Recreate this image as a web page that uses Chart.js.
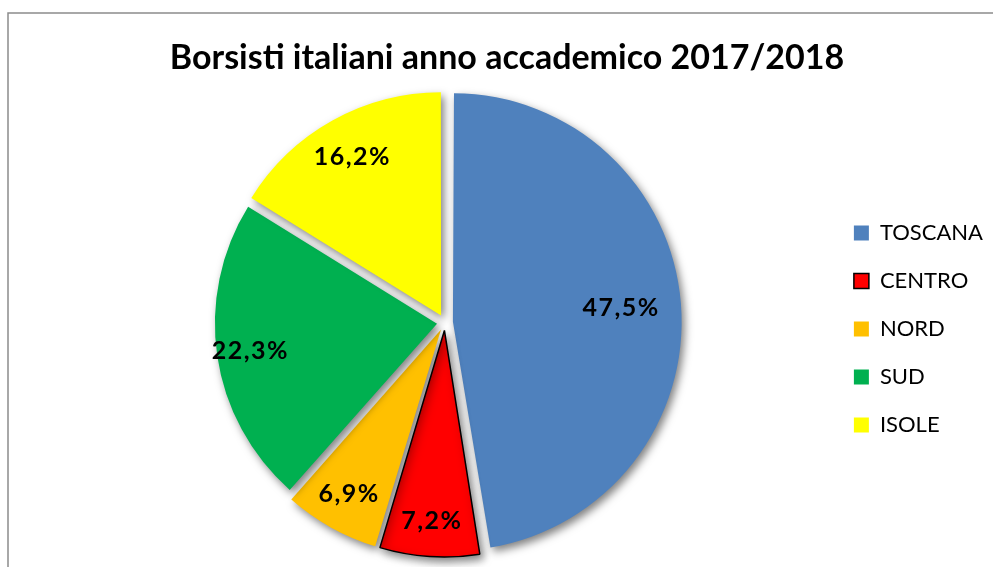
<!DOCTYPE html>
<html>
<head>
<meta charset="utf-8">
<script src="https://cdn.jsdelivr.net/npm/chart.js@4.4.0/dist/chart.umd.min.js"></script>
<style>
  html, body { margin: 0; padding: 0; background: #fff; }
  #wrap { width: 993px; height: 567px; position: relative; }
</style>
</head>
<body>
<div id="wrap"><canvas id="pie" width="993" height="567"></canvas></div>
<script>
// Data
const regions = ['TOSCANA', 'CENTRO', 'NORD', 'SUD', 'ISOLE'];
const percents = [47.5, 7.2, 6.9, 22.3, 16.2];
const sliceColors = ['#4F81BD', '#FF0000', '#FFC000', '#00B050', '#FFFF00'];
const chartTitle = 'Borsisti italiani anno accademico 2017/2018';

// grey frame of the chart box (only left and top are visible) + title
const framePlugin = {
  id: 'frame',
  beforeDraw(chart) {
    const ctx = chart.ctx;
    ctx.save();
    ctx.strokeStyle = '#8c8c8c';
    ctx.lineWidth = 1.5;
    ctx.beginPath();
    ctx.moveTo(8, chart.height);
    ctx.lineTo(8, 13);
    ctx.lineTo(chart.width, 13);
    ctx.stroke();
    // title is centred on the whole box, not on the pie
    ctx.fillStyle = '#000';
    ctx.font = 'bold 34px Lato';
    ctx.textAlign = 'center';
    ctx.textBaseline = 'middle';
    ctx.fillText(chartTitle, 507, 58);
    ctx.restore();
  }
};

// soft shadow under the slices
const shadowPlugin = {
  id: 'shadow',
  beforeDatasetsDraw(chart) {
    const ctx = chart.ctx;
    ctx.save();
    ctx.shadowColor = 'rgba(0,0,0,0.5)';
    ctx.shadowBlur = 9;
    ctx.shadowOffsetX = 3;
    ctx.shadowOffsetY = 4;
  },
  afterDatasetsDraw(chart) {
    chart.ctx.restore();
  }
};

// percentage labels inside the slices
const labelRatio = [0.76, 0.86, 0.85, 0.85, 0.82];
const labelPlugin = {
  id: 'sliceLabels',
  afterDatasetsDraw(chart) {
    const ctx = chart.ctx;
    const meta = chart.getDatasetMeta(0);
    ctx.save();
    ctx.font = 'bold 25px Lato';
    ctx.letterSpacing = '1.5px';
    ctx.fillStyle = '#000';
    ctx.textAlign = 'center';
    ctx.textBaseline = 'middle';
    meta.data.forEach((arc, i) => {
      const p = arc.getProps(['x', 'y', 'startAngle', 'endAngle', 'outerRadius'], true);
      const mid = (p.startAngle + p.endAngle) / 2;
      const r = p.outerRadius * labelRatio[i] + 8;
      const x = p.x + Math.cos(mid) * r;
      const y = p.y + Math.sin(mid) * r;
      ctx.fillText(percents[i].toFixed(1).replace('.', ',') + '%', x, y);
    });
    ctx.restore();
  }
};

new Chart(document.getElementById('pie'), {
  type: 'pie',
  data: {
    labels: regions,
    datasets: [{
      data: percents,
      backgroundColor: sliceColors,
      borderColor: ['#000', '#000', '#000', '#000', '#000'],
      borderWidth: [0, 1.5, 0, 0, 0],
      offset: 32
    }]
  },
  options: {
    responsive: false,
    animation: false,
    radius: 222,
    layout: { padding: { top: 94, left: 62, right: 0, bottom: 16 } },
    plugins: {
      title: { display: false },
      legend: {
        position: 'right',
        title: { display: true, text: '', font: { size: 10, lineHeight: 1 }, padding: { top: 3, bottom: 0 } },
        labels: {
          color: '#000',
          font: { family: 'Lato', size: 22 },
          boxWidth: 15,
          boxHeight: 15,
          padding: 26
        }
      },
      tooltip: { enabled: false }
    }
  },
  plugins: [framePlugin, shadowPlugin, labelPlugin]
});
</script>
</body>
</html>
